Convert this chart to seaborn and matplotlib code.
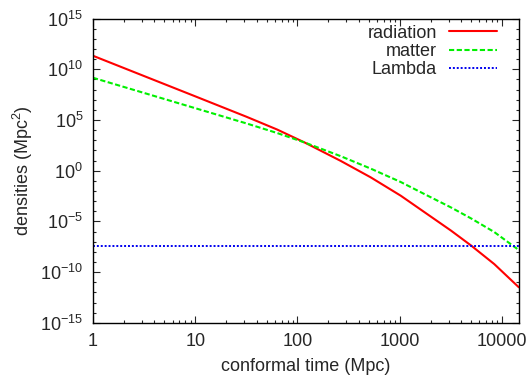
import numpy as np
import pandas as pd
import matplotlib
matplotlib.use("Agg")
import matplotlib.pyplot as plt
import matplotlib.ticker as mticker
import seaborn as sns

# values (conformal time in Mpc)
tau = [1, 3.16, 10, 31.6, 63.1, 117.5, 263, 520, 1023, 1738, 3162, 5012, 8395, 14590]
radiation = [2.14e11, 2.14e9, 2.14e7, 2.1e5, 1.15e4, 6.0e2, 9.5, 0.22, 3.4e-3, 8.3e-5,
             1.26e-6, 4.0e-8, 6.2e-10, 3.2e-12]
matter = [1.45e9, 4.6e7, 1.45e6, 4.6e4, 5.2e3, 6.0e2, 27.5, 1.6, 7.6e-2, 5.0e-3,
          2.4e-4, 1.9e-5, 8.9e-7, 1.5e-8]
lambda_ = [4.0e-8] * len(tau)

df = pd.DataFrame({"tau": tau, "radiation": radiation, "matter": matter, "Lambda": lambda_})

sns.set_style("ticks")
plt.rcParams["font.family"] = ["Liberation Sans", "DejaVu Sans"]
plt.rcParams["mathtext.fontset"] = "custom"
plt.rcParams["mathtext.rm"] = "Liberation Sans"
plt.rcParams["mathtext.default"] = "regular"

fig = plt.figure(figsize=(5.31, 3.78), dpi=100)
ax = fig.add_axes([0.175, 0.146, 0.802, 0.805])

sns.lineplot(data=df, x="tau", y="radiation", ax=ax, color="#ff0000", lw=1.5, label="radiation")
sns.lineplot(data=df, x="tau", y="matter", ax=ax, color="#00f000", lw=1.5,
             linestyle=(0, (2.5, 1.2)), label="matter")
sns.lineplot(data=df, x="tau", y="Lambda", ax=ax, color="#0000ee", lw=1.4,
             linestyle=(0, (1, 1)), label="Lambda")

ax.set_xscale("log")
ax.set_yscale("log")
ax.set_xlim(1, 14590)
ax.set_ylim(1e-15, 1e15)

ax.xaxis.set_major_locator(mticker.FixedLocator([1, 10, 100, 1000, 10000]))
ax.xaxis.set_major_formatter(mticker.FixedFormatter(["1", "10", "100", "1000", "10000"]))
ax.xaxis.set_minor_locator(mticker.LogLocator(base=10, subs=np.arange(2, 10)))
ax.xaxis.set_minor_formatter(mticker.NullFormatter())

ax.yaxis.set_major_locator(mticker.FixedLocator([10.0 ** k for k in range(-15, 16, 5)]))
ax.yaxis.set_major_formatter(mticker.FuncFormatter(lambda v, p: r"$10^{%d}$" % round(np.log10(v))))
ax.yaxis.set_minor_locator(mticker.FixedLocator([10.0 ** k for k in range(-15, 16)]))
ax.yaxis.set_minor_formatter(mticker.NullFormatter())

ax.tick_params(which="both", direction="in", top=True, right=True, labelsize=13, width=0.8)
ax.tick_params(which="major", length=5, pad=7)
ax.tick_params(which="minor", length=2.5)
for s in ax.spines.values():
    s.set_linewidth(1.0)
    s.set_color("black")

ax.set_xlabel("conformal time (Mpc)", fontsize=13, labelpad=6)
ax.set_ylabel(r"densities (Mpc$^{2}$)", fontsize=13, labelpad=4)

ax.legend(loc="upper right", bbox_to_anchor=(0.948, 0.98), frameon=False, markerfirst=False,
          fontsize=13, handlelength=2.65, handletextpad=0.65, labelspacing=0.08,
          borderaxespad=0, borderpad=0)

fig.savefig("out.png", dpi=100)
